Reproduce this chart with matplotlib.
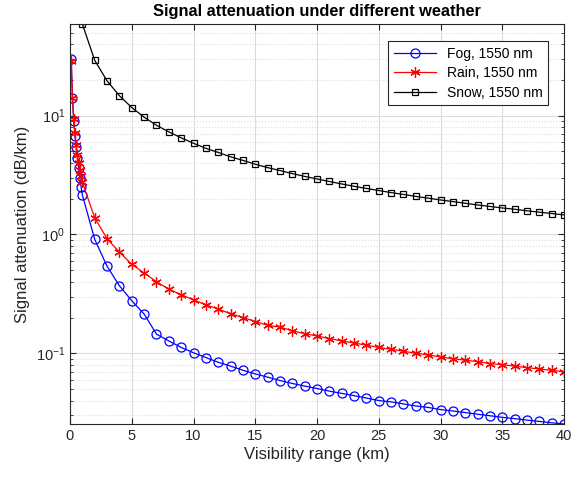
import matplotlib
matplotlib.use("Agg")
import matplotlib.pyplot as plt
from matplotlib.ticker import LogLocator, NullFormatter, MultipleLocator

plt.rcParams['font.family'] = ['Liberation Sans', 'DejaVu Sans']
plt.rcParams['mathtext.fontset'] = 'custom'
plt.rcParams['mathtext.rm'] = 'Liberation Sans'
plt.rcParams['mathtext.it'] = 'Liberation Sans:italic'

# visibility range (km)
v_near = [0.1, 0.2, 0.3, 0.4, 0.5, 0.6, 0.7, 0.8, 0.9, 1.0]
v_far = list(range(2, 41))
v_fog = v_near + v_far
v_rain = v_near + v_far
v_snow = list(range(1, 41))

# attenuation values (dB/km)
fog = [30, 14, 9, 6.8, 5.4, 4.4, 3.6, 3.0, 2.5, 2.15,
       0.91, 0.54, 0.37, 0.277, 0.214, 0.145, 0.127, 0.112, 0.101, 0.092,
       0.084, 0.078, 0.072, 0.067, 0.063, 0.059, 0.0557, 0.053, 0.0505, 0.048,
       0.046, 0.044, 0.042, 0.040, 0.039, 0.0375, 0.036, 0.035, 0.0336, 0.0327,
       0.0317, 0.0307, 0.0298, 0.0289, 0.0282, 0.0274, 0.0267, 0.026, 0.0254]
rain = [29, 14, 9.4, 7.1, 5.7, 4.7, 4.0, 3.5, 3.1, 2.75,
        1.38, 0.92, 0.71, 0.56, 0.474, 0.40, 0.347, 0.311, 0.282, 0.255,
        0.236, 0.215, 0.20, 0.185, 0.172, 0.166, 0.155, 0.146, 0.14, 0.133,
        0.127, 0.122, 0.117, 0.112, 0.108, 0.104, 0.100, 0.097, 0.093, 0.090,
        0.0875, 0.085, 0.082, 0.080, 0.078, 0.0757, 0.0737, 0.0718, 0.070]
snow = [59, 29.2, 19.6, 14.7, 11.7, 9.7, 8.3, 7.3, 6.5, 5.85,
        5.3, 4.9, 4.5, 4.2, 3.9, 3.65, 3.45, 3.25, 3.08, 2.93,
        2.79, 2.66, 2.54, 2.44, 2.34, 2.25, 2.17, 2.09, 2.02, 1.95,
        1.89, 1.83, 1.77, 1.72, 1.67, 1.63, 1.58, 1.54, 1.50, 1.46]

labels = ['Fog, 1550 nm', 'Rain, 1550 nm', 'Snow, 1550 nm']

txt = '#262626'
asterisk = (6, 2, 0)

fig = plt.figure(figsize=(5.86, 4.79), dpi=100)
ax = fig.add_axes([70/586, 1-424/479, (564-70)/586, (424-24)/479])

ax.semilogy(v_fog, fog, '-', marker='o', color='b', lw=0.9, ms=6.5, mfc='none', mew=0.9, label=labels[0])
ax.semilogy(v_rain, rain, '-', marker=asterisk, color='r', lw=0.9, ms=7.5, mew=0.9, label=labels[1])
ax.semilogy(v_snow, snow, '-', marker='s', color='k', lw=0.9, ms=5, mfc='none', mew=0.9, label=labels[2])

ax.set_xlim(0, 40)
ax.set_ylim(min(fog), max(snow))
ax.xaxis.set_major_locator(MultipleLocator(5))
ax.yaxis.set_major_locator(LogLocator(base=10, numticks=10))
ax.yaxis.set_minor_locator(LogLocator(base=10, subs=range(2, 10), numticks=20))
ax.yaxis.set_minor_formatter(NullFormatter())

ax.grid(True, which='major', color='#dcdcdc', lw=0.8)
ax.grid(True, which='minor', axis='y', color='#dcdcdc', lw=0.8, ls=':')
ax.set_axisbelow(True)

ax.tick_params(which='both', direction='in', top=True, right=True, colors=txt, labelsize=10.5)
ax.tick_params(which='major', length=4)
ax.tick_params(which='minor', length=2)
for s in ax.spines.values():
    s.set_color(txt)
    s.set_linewidth(0.8)

ax.set_xlabel('Visibility range (km)', fontsize=12, color=txt, labelpad=3)
ax.set_ylabel('Signal attenuation (dB/km)', fontsize=12, color=txt, labelpad=4)
ax.set_title('Signal attenuation under different weather', fontsize=11.8, fontweight='bold', pad=6)

leg = ax.legend(loc='upper right', fontsize=10, fancybox=False, framealpha=1,
                edgecolor=txt, borderpad=0.4, handlelength=3, labelspacing=0.4,
                borderaxespad=0, bbox_to_anchor=((548-70)/494, (424-41)/400))
leg.get_frame().set_linewidth(0.8)

fig.savefig('out.png', dpi=100)
